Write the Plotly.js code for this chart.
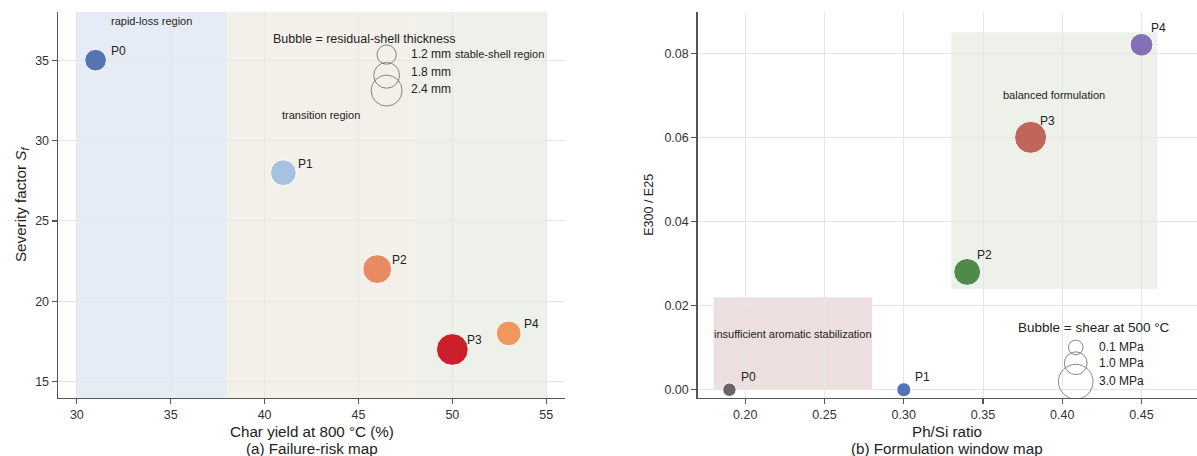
<!DOCTYPE html>
<html>
<head>
<meta charset="utf-8">
<script src="https://cdn.plot.ly/plotly-3.0.1.min.js"></script>
<style>html,body{margin:0;padding:0;background:#fff;}#chart{width:1197px;height:456px;}</style>
</head>
<body>
<div id="chart"></div>
<script>
// ---- data ----
const pointLabels = ['P0', 'P1', 'P2', 'P3', 'P4'];
// (a) Failure-risk map
const charYield = [31, 41, 46, 50, 53];
const severity = [35, 28, 22, 17, 18];
const shellThickness = [1.4, 1.8, 2.15, 2.5, 1.7];
const legendThickness = [1.2, 1.8, 2.4];
const legendThicknessText = ['1.2 mm', '1.8 mm', '2.4 mm'];
// (b) Formulation window map
const phSiRatio = [0.19, 0.30, 0.34, 0.38, 0.45];
const e300e25 = [0.000, 0.000, 0.028, 0.060, 0.082];
const shear500 = [0.0, 0.05, 1.6, 2.5, 1.0];
const legendShear = [0.1, 1.0, 3.0];
const legendShearText = ['0.1 MPa', '1.0 MPa', '3.0 MPa'];
// titles
const xTitleA = 'Char yield at 800 °C (%)';
const captionA = '(a) Failure-risk map';
const xTitleB = 'Ph/Si ratio';
const captionB = '(b) Formulation window map';

// ---- styles ----
const FONT = 'Liberation Sans, Arial, Helvetica, sans-serif';
const colorsA = ['#5673b2', '#a7c1e1', '#e88b63', '#cb1f2b', '#f0975f'];
const colorsB = ['#666666', '#5572b6', '#4f8a4a', '#c0655a', '#8470b6'];
const sizeA = t => Math.sqrt(Math.max(491 * t - 217, 16));
const sizeB = s => Math.sqrt(180 + 340 * s);
const domA = [0.0485, 0.472], domB = [0.5829, 1.0];

const traces = [
  {
    type: 'scatter', mode: 'markers', x: charYield, y: severity, xaxis: 'x', yaxis: 'y',
    marker: {size: shellThickness.map(sizeA), sizemode: 'diameter', color: colorsA, opacity: 1,
             line: {color: '#ffffff', width: 1}},
    hoverinfo: 'skip', showlegend: false
  },
  {
    type: 'scatter', mode: 'markers', x: [46.5, 46.5, 46.5], y: [35.35, 34.06, 33.11], xaxis: 'x', yaxis: 'y',
    marker: {size: legendThickness.map(sizeA), sizemode: 'diameter', color: 'rgba(0,0,0,0)',
             line: {color: '#555555', width: 1}},
    hoverinfo: 'skip', showlegend: false
  },
  {
    type: 'scatter', mode: 'markers', x: phSiRatio, y: e300e25, xaxis: 'x2', yaxis: 'y2',
    marker: {size: shear500.map(sizeB), sizemode: 'diameter', color: colorsB, opacity: 1,
             line: {color: '#ffffff', width: 1}},
    hoverinfo: 'skip', showlegend: false
  },
  {
    type: 'scatter', mode: 'markers', x: [0.4085, 0.4085, 0.4085], y: [0.01005, 0.00629, 0.0019], xaxis: 'x2', yaxis: 'y2',
    marker: {size: legendShear.map(sizeB), sizemode: 'diameter', color: 'rgba(0,0,0,0)',
             line: {color: '#555555', width: 1}},
    hoverinfo: 'skip', showlegend: false
  }
];

const annotations = [];
pointLabels.forEach((lab, i) => {
  annotations.push({x: charYield[i], y: severity[i], xref: 'x', yref: 'y', text: lab, showarrow: false,
    xanchor: 'left', yanchor: 'middle', xshift: 13, yshift: 9, font: {size: 12, color: '#222', family: FONT}});
  const small = shear500[i] < 0.5;
  annotations.push({x: phSiRatio[i], y: e300e25[i], xref: 'x2', yref: 'y2', text: lab, showarrow: false,
    xanchor: 'left', yanchor: 'middle', xshift: small ? 9.5 : 7.5, yshift: small ? 13 : 16.5,
    font: {size: 12, color: '#222', family: FONT}});
});
const regionFont = {size: 11, color: '#222', family: FONT};
annotations.push(
  {x: 34, y: 37.44, xref: 'x', yref: 'y', text: 'rapid-loss region', showarrow: false, xanchor: 'center', yanchor: 'middle', font: regionFont},
  {x: 43, y: 31.6, xref: 'x', yref: 'y', text: 'transition region', showarrow: false, xanchor: 'center', yanchor: 'middle', font: regionFont},
  {x: 52.5, y: 35.375, xref: 'x', yref: 'y', text: 'stable-shell region', showarrow: false, xanchor: 'center', yanchor: 'middle', font: regionFont},
  {x: 45.3, y: 36.33, xref: 'x', yref: 'y', text: 'Bubble = residual-shell thickness', showarrow: false, xanchor: 'center', yanchor: 'middle', font: {size: 12.5, color: '#222', family: FONT}},
  {x: 0.395, y: 0.070, xref: 'x2', yref: 'y2', text: 'balanced formulation', showarrow: false, xanchor: 'center', yanchor: 'middle', font: regionFont},
  {x: 0.23, y: 0.0132, xref: 'x2', yref: 'y2', text: 'insufficient aromatic stabilization', showarrow: false, xanchor: 'center', yanchor: 'middle', font: regionFont},
  {x: 0.42, y: 0.0148, xref: 'x2', yref: 'y2', text: 'Bubble = shear at 500 °C', showarrow: false, xanchor: 'center', yanchor: 'middle', font: {size: 13.5, color: '#222', family: FONT}}
);
const legYA = [35.375, 34.29, 33.19];
legendThicknessText.forEach((t, i) => annotations.push({x: 47.68, y: legYA[i], xref: 'x', yref: 'y', text: t, showarrow: false,
  xanchor: 'left', yanchor: 'middle', font: {size: 12, color: '#222', family: FONT}}));
const legYB = [0.01024, 0.00629, 0.00207];
legendShearText.forEach((t, i) => annotations.push({x: 0.4222, y: legYB[i], xref: 'x2', yref: 'y2', text: t, showarrow: false,
  xanchor: 'left', yanchor: 'middle', font: {size: 12, color: '#222', family: FONT}}));

// x-axis titles and panel captions (two lines below each panel)
const titleFont = {size: 15.2, color: '#222', family: FONT};
const line1Y = (456 - 431) / 456, line2Y = (456 - 448) / 456;
[[domA, xTitleA, captionA], [domB, xTitleB, captionB]].forEach(([d, t1, t2]) => {
  const cx = (d[0] + d[1]) / 2;
  annotations.push({x: cx, y: line1Y, xref: 'paper', yref: 'paper', text: t1, showarrow: false, xanchor: 'center', yanchor: 'middle', font: titleFont});
  annotations.push({x: cx, y: line2Y, xref: 'paper', yref: 'paper', text: t2, showarrow: false, xanchor: 'center', yanchor: 'middle', font: titleFont});
});

const shapes = [
  {type: 'rect', xref: 'x', yref: 'y domain', x0: 30, x1: 38, y0: 0, y1: 1, fillcolor: '#e6ecf5', line: {width: 0}, layer: 'below'},
  {type: 'rect', xref: 'x', yref: 'y domain', x0: 38, x1: 48, y0: 0, y1: 1, fillcolor: '#f3f0ea', line: {width: 0}, layer: 'below'},
  {type: 'rect', xref: 'x', yref: 'y domain', x0: 48, x1: 55, y0: 0, y1: 1, fillcolor: '#eef0ea', line: {width: 0}, layer: 'below'},
  {type: 'rect', xref: 'x2', yref: 'y2', x0: 0.18, x1: 0.28, y0: 0, y1: 0.022, fillcolor: '#eddfe0', line: {width: 0}, layer: 'below'},
  {type: 'rect', xref: 'x2', yref: 'y2', x0: 0.33, x1: 0.46, y0: 0.024, y1: 0.085, fillcolor: '#eef0ea', line: {width: 0}, layer: 'below'}
];

const axisCommon = {
  showline: true, linecolor: '#555555', linewidth: 1.5, mirror: false,
  ticks: 'outside', ticklen: 5, tickwidth: 1.2, tickcolor: '#555555',
  showgrid: true, gridcolor: '#e6e6e6', gridwidth: 1, zeroline: false,
  tickfont: {size: 12.5, color: '#333', family: FONT}
};

const layout = {
  width: 1197, height: 456,
  margin: {l: 0, r: 0, t: 0, b: 0},
  paper_bgcolor: '#ffffff', plot_bgcolor: '#ffffff',
  font: {family: FONT, color: '#222'},
  showlegend: false,
  xaxis: Object.assign({}, axisCommon, {domain: domA, range: [29, 56], tickvals: [30, 35, 40, 45, 50, 55], anchor: 'y'}),
  yaxis: Object.assign({}, axisCommon, {domain: [0.1279, 0.9737], range: [14, 38], tickvals: [15, 20, 25, 30, 35],
    anchor: 'x', title: {text: 'Severity factor <i>S</i><sub><i>f</i></sub>', font: titleFont, standoff: 5}}),
  xaxis2: Object.assign({}, axisCommon, {domain: domB, range: [0.17, 0.485], tickvals: [0.20, 0.25, 0.30, 0.35, 0.40, 0.45],
    tickformat: '.2f', anchor: 'y2'}),
  yaxis2: Object.assign({}, axisCommon, {domain: [0.1279, 0.9737], range: [-0.0019, 0.0898], tickvals: [0, 0.02, 0.04, 0.06, 0.08],
    tickformat: '.2f', anchor: 'x2', title: {text: 'E300 / E25', font: {size: 12.5, color: '#222', family: FONT}, standoff: 8}}),
  shapes: shapes,
  annotations: annotations
};

Plotly.newPlot('chart', traces, layout, {displayModeBar: false, staticPlot: true});
</script>
</body>
</html>
